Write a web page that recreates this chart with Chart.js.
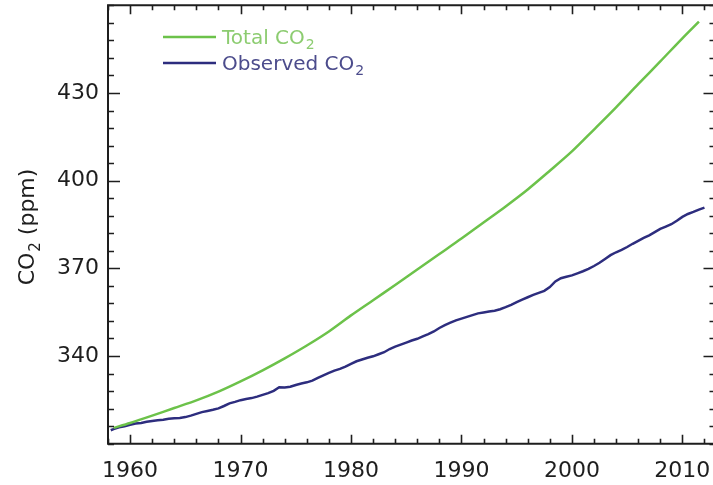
<!DOCTYPE html>
<html>
<head>
<meta charset="utf-8">
<script src="https://cdn.jsdelivr.net/npm/chart.js@4.4.0/dist/chart.umd.min.js"></script>
<style>
  html, body { margin: 0; padding: 0; background: #ffffff; overflow: hidden; }
  #wrap { position: relative; width: 713px; height: 485px; overflow: hidden; }
  #c { position: absolute; left: 0; top: 0; }
</style>
</head>
<body>
<div id="wrap"><canvas id="c" width="716" height="485"></canvas></div>
<script>
// ---- data ----
const totalYears = [1958.5, 1960, 1962, 1964, 1966, 1968, 1970, 1972, 1974, 1976, 1978, 1980,
  1982, 1984, 1986, 1988, 1990, 1992, 1994, 1996, 1998, 2000, 2002, 2004, 2006, 2008, 2010, 2011.5];
const totalCO2 = [315.4, 317.1, 319.6, 322.2, 324.8, 327.8, 331.3, 335.1, 339.2, 343.6, 348.4, 353.9,
  359.1, 364.3, 369.6, 374.9, 380.2, 385.7, 391.2, 397.0, 403.4, 410.0, 417.5, 425.1, 433.0, 440.8, 448.7, 454.4];

const obsYears = [1958.25, 1958.5, 1959, 1959.5, 1960, 1960.5, 1961, 1961.5, 1962, 1962.5, 1963, 1963.5,
  1964, 1964.5, 1965, 1965.5, 1966, 1966.5, 1967, 1967.5, 1968, 1968.5, 1969, 1969.5,
  1970, 1970.5, 1971, 1971.5, 1972, 1972.5, 1973, 1973.5, 1974, 1974.5, 1975, 1975.5,
  1976, 1976.5, 1977, 1977.5, 1978, 1978.5, 1979, 1979.5, 1980, 1980.5, 1981, 1981.5,
  1982, 1982.5, 1983, 1983.5, 1984, 1984.5, 1985, 1985.5, 1986, 1986.5, 1987, 1987.5,
  1988, 1988.5, 1989, 1989.5, 1990, 1990.5, 1991, 1991.5, 1992, 1992.5, 1993, 1993.5,
  1994, 1994.5, 1995, 1995.5, 1996, 1996.5, 1997, 1997.5, 1998, 1998.5, 1999, 1999.5,
  2000, 2000.5, 2001, 2001.5, 2002, 2002.5, 2003, 2003.5, 2004, 2004.5, 2005, 2005.5,
  2006, 2006.5, 2007, 2007.5, 2008, 2008.5, 2009, 2009.5, 2010, 2010.5, 2011, 2011.5, 2012];
const obsCO2 = [314.6, 315.0, 315.6, 316.0, 316.5, 316.9, 317.1, 317.5, 317.8, 318.0, 318.2, 318.5,
  318.7, 318.8, 319.1, 319.6, 320.2, 320.8, 321.2, 321.6, 322.1, 322.9, 323.8, 324.3,
  324.9, 325.3, 325.6, 326.1, 326.7, 327.3, 328.1, 329.3, 329.2, 329.5, 330.1, 330.6,
  331.0, 331.6, 332.5, 333.4, 334.2, 335.0, 335.6, 336.4, 337.3, 338.2, 338.8, 339.4,
  339.9, 340.6, 341.3, 342.4, 343.2, 343.9, 344.6, 345.3, 345.9, 346.7, 347.5, 348.4,
  349.6, 350.6, 351.4, 352.2, 352.8, 353.4, 354.0, 354.6, 354.9, 355.2, 355.5, 356.0,
  356.7, 357.5, 358.4, 359.3, 360.1, 360.9, 361.6, 362.3, 363.6, 365.5, 366.6, 367.1,
  367.6, 368.3, 369.0, 369.8, 370.8, 371.9, 373.2, 374.5, 375.5, 376.3, 377.3, 378.4,
  379.4, 380.4, 381.3, 382.4, 383.5, 384.3, 385.1, 386.3, 387.6, 388.6, 389.3, 390.1, 390.8];

const xTickLabels = [1960, 1970, 1980, 1990, 2000, 2010];
const xMinorTicks = [1958, 1960, 1962, 1964, 1966, 1968, 1970, 1972, 1974, 1976, 1978, 1980, 1982, 1984,
  1986, 1988, 1990, 1992, 1994, 1996, 1998, 2000, 2002, 2004, 2006, 2008, 2010, 2012];
const yTickLabels = [340, 370, 400, 430];
const yMinorTicks = [310, 316, 322, 328, 334, 340, 346, 352, 358, 364, 370, 376, 382, 388, 394, 400,
  406, 412, 418, 424, 430, 436, 442, 448, 454, 460];
const seriesLabels = ['Total CO', 'Observed CO'];
const yTitle = ['CO', '2', ' (ppm)'];

// ---- styling ----
const GREEN = '#6cc24a';
const GREEN_TEXT = '#8ccc70';
const BLUE = '#2d2d7e';
const BLUE_TEXT = '#4c4c8c';
const AXIS = '#1e1e1e';
const FONT = '"DejaVu Sans", sans-serif';

const framePlugin = {
  id: 'frame',
  afterDraw(chart) {
    const ctx = chart.ctx;
    const a = chart.chartArea;
    const xs = chart.scales.x, ys = chart.scales.y;
    ctx.save();
    ctx.strokeStyle = AXIS;
    ctx.lineWidth = 2;
    ctx.beginPath();
    ctx.rect(a.left, a.top, a.right - a.left, a.bottom - a.top);
    ctx.stroke();
    ctx.lineWidth = 1.6;
    ctx.beginPath();
    xMinorTicks.forEach(v => {
      const px = Math.round(xs.getPixelForValue(v)) + 0.5;
      const len = xTickLabels.includes(v) ? 9 : 5;
      ctx.moveTo(px, a.bottom); ctx.lineTo(px, a.bottom - len);
      ctx.moveTo(px, a.top); ctx.lineTo(px, a.top + len);
    });
    yMinorTicks.forEach(v => {
      const py = Math.round(ys.getPixelForValue(v)) + 0.5;
      const len = yTickLabels.includes(v) ? 12 : 6;
      ctx.moveTo(a.left, py); ctx.lineTo(a.left + len, py);
      ctx.moveTo(a.right, py); ctx.lineTo(a.right - len, py);
    });
    ctx.stroke();

    // legend
    const items = chart.data.datasets.map((d, i) => ({
      label: seriesLabels[i], color: d.borderColor, textColor: i === 0 ? GREEN_TEXT : BLUE_TEXT
    }));
    const lx = 163, ly0 = 37, dy = 26;
    items.forEach((it, i) => {
      const y = ly0 + i * dy;
      ctx.strokeStyle = it.color;
      ctx.lineWidth = 2.5;
      ctx.beginPath();
      ctx.moveTo(lx, y); ctx.lineTo(lx + 53, y);
      ctx.stroke();
      ctx.fillStyle = it.textColor;
      ctx.textBaseline = 'alphabetic';
      ctx.textAlign = 'left';
      ctx.font = '20px ' + FONT;
      const tx = lx + 59;
      ctx.fillText(it.label, tx, y + 7);
      const w = ctx.measureText(it.label).width;
      ctx.font = '14px ' + FONT;
      ctx.fillText('2', tx + w + 1, y + 12);
    });

    // y axis title
    ctx.save();
    ctx.translate(34, 227);
    ctx.rotate(-Math.PI / 2);
    ctx.fillStyle = AXIS;
    ctx.textBaseline = 'alphabetic';
    ctx.font = '22px ' + FONT;
    const w1 = ctx.measureText(yTitle[0]).width;
    ctx.font = '15px ' + FONT;
    const w2 = ctx.measureText(yTitle[1]).width;
    ctx.font = '22px ' + FONT;
    const w3 = ctx.measureText(yTitle[2]).width;
    let sx = -(w1 + w2 + w3 + 1) / 2;
    ctx.textAlign = 'left';
    ctx.fillText(yTitle[0], sx, 0);
    ctx.font = '15px ' + FONT;
    ctx.fillText(yTitle[1], sx + w1 + 1, 6);
    ctx.font = '22px ' + FONT;
    ctx.fillText(yTitle[2], sx + w1 + w2 + 1, 0);
    ctx.restore();
    ctx.restore();
  }
};

function zeroPad(s) { s.paddingTop = 0; s.paddingBottom = 0; s.paddingLeft = 0; s.paddingRight = 0; }

new Chart(document.getElementById('c'), {
  type: 'line',
  data: {
    datasets: [
      {
        label: 'Total CO2',
        data: totalYears.map((x, i) => ({ x, y: totalCO2[i] })),
        borderColor: GREEN, borderWidth: 2.5, pointRadius: 0, tension: 0.3, fill: false
      },
      {
        label: 'Observed CO2',
        data: obsYears.map((x, i) => ({ x, y: obsCO2[i] })),
        borderColor: BLUE, borderWidth: 2.5, pointRadius: 0, tension: 0, fill: false
      }
    ]
  },
  options: {
    responsive: false,
    animation: false,
    devicePixelRatio: 1,
    layout: { padding: { left: 0, top: 5.3, right: 0.5, bottom: 0 } },
    plugins: { legend: { display: false }, tooltip: { enabled: false } },
    scales: {
      x: {
        type: 'linear', min: 1958, max: 2013,
        grid: { display: false, drawTicks: false },
        border: { display: false },
        afterFit(s) { s.height = 41.3; zeroPad(s); },
        afterBuildTicks(s) { s.ticks = xTickLabels.map(v => ({ value: v })); },
        ticks: { color: AXIS, font: { family: FONT, size: 22 }, padding: 14, maxRotation: 0,
          callback: v => String(v) }
      },
      y: {
        type: 'linear', min: 310, max: 460,
        grid: { display: false, drawTicks: false },
        border: { display: false },
        afterFit(s) { s.width = 108; zeroPad(s); },
        afterBuildTicks(s) { s.ticks = yTickLabels.map(v => ({ value: v })); },
        ticks: { color: AXIS, font: { family: FONT, size: 22 }, padding: 9,
          callback: v => String(v) }
      }
    }
  },
  plugins: [framePlugin]
});
</script>
</body>
</html>
